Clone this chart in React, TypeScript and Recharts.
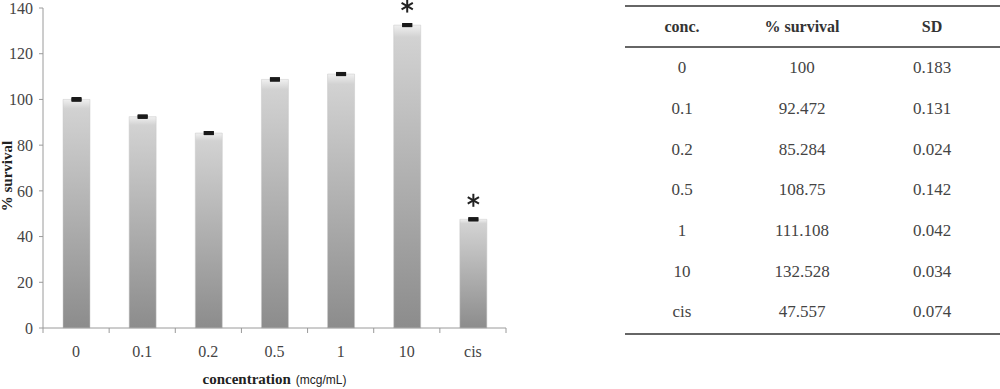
import React from 'react'
import { BarChart, Bar, XAxis, YAxis, ErrorBar, LabelList } from 'recharts'

/* survival vs concentration — bar chart + data table on the right */

const categories = ['0', '0.1', '0.2', '0.5', '1', '10', 'cis']
const survival = [100, 92.472, 85.284, 108.75, 111.108, 132.528, 47.557]
const sdValues = [0.183, 0.131, 0.024, 0.142, 0.042, 0.034, 0.074]
const significant = [false, false, false, false, false, true, true]
const yTicks = [0, 20, 40, 60, 80, 100, 120, 140]

const data = categories.map((conc, i) => ({
  conc,
  survival: survival[i],
  sd: sdValues[i],
  sig: significant[i],
}))

const SERIF = '"Liberation Serif", "DejaVu Serif", serif'
const AXIS = '#9a9a9a'

function XTick(props: any) {
  const { x, y, payload, index } = props
  const half = payload?.offset || 33
  const last = index === categories.length - 1
  return (
    <g>
      <line x1={x - half} y1={y} x2={x - half} y2={y + 5} stroke={AXIS} />
      {last && <line x1={x + half} y1={y} x2={x + half} y2={y + 5} stroke={AXIS} />}
      <text x={x} y={y + 29} textAnchor="middle" fontSize={16} fill="#444" fontFamily={SERIF}>
        {payload.value}
      </text>
    </g>
  )
}

function Asterisk(props: any) {
  const { x, y, width, index } = props
  if (!significant[index]) return null
  const cx = x + width / 2
  const cy = y - 19
  const r = 6.5
  const arms = [90, 30, -30]
  return (
    <g stroke="#222" strokeWidth={2}>
      {arms.map((a) => {
        const rad = (a * Math.PI) / 180
        const dx = Math.cos(rad) * r
        const dy = Math.sin(rad) * r
        return <line key={a} x1={cx - dx} y1={cy - dy} x2={cx + dx} y2={cy + dy} />
      })}
    </g>
  )
}

function SurvivalTable() {
  const cols = [114, 126, 134]
  const cell = (w: number): React.CSSProperties => ({ width: w, textAlign: 'center' })
  return (
    <div
      style={{
        position: 'absolute',
        left: 625,
        top: 5,
        width: 375,
        fontFamily: SERIF,
        fontSize: 17,
        color: '#444',
        borderTop: '2px solid #666',
        borderBottom: '2px solid #666',
      }}
    >
      <div
        style={{
          display: 'flex',
          alignItems: 'center',
          height: 39,
          borderBottom: '2px solid #666',
          fontWeight: 'bold',
          fontSize: 16,
          color: '#333',
        }}
      >
        <div style={cell(cols[0])}>conc.</div>
        <div style={cell(cols[1])}>% survival</div>
        <div style={cell(cols[2])}>SD</div>
      </div>
      {categories.map((c, i) => (
        <div key={c} style={{ display: 'flex', alignItems: 'center', height: 40.7 }}>
          <div style={cell(cols[0])}>{c}</div>
          <div style={cell(cols[1])}>{String(survival[i])}</div>
          <div style={cell(cols[2])}>{sdValues[i].toFixed(3)}</div>
        </div>
      ))}
    </div>
  )
}

export default function App() {
  return (
    <div style={{ position: 'absolute', left: 0, top: 0, width: 1000, height: 389, background: '#fff' }}>
      <BarChart width={520} height={389} data={data} margin={{ top: 8, right: 14, bottom: 11, left: 0 }}>
        <defs>
          <linearGradient id="barFill" x1="0" y1="0" x2="0" y2="1">
            <stop offset="0%" stopColor="#f0f0f0" />
            <stop offset="4%" stopColor="#d2d2d2" />
            <stop offset="100%" stopColor="#8c8c8c" />
          </linearGradient>
        </defs>
        <XAxis
          dataKey="conc"
          interval={0}
          height={50}
          tickSize={0}
          tickMargin={0}
          tickLine={false}
          axisLine={{ stroke: AXIS }}
          tick={<XTick />}
          label={{
            content: (p: any) => {
              const vb = p.viewBox || { x: 43, y: 328, width: 463 }
              return (
                <text x={vb.x + vb.width / 2} y={vb.y + 56} textAnchor="middle" fill="#222">
                  <tspan fontFamily={SERIF} fontWeight="bold" fontSize={15}>concentration</tspan>
                  <tspan fontFamily='"Liberation Sans", Arial, sans-serif' fontSize={12} dx={5}>(mcg/mL)</tspan>
                </text>
              )
            },
          }}
        />
        <YAxis
          width={43}
          domain={[0, 140]}
          ticks={yTicks}
          interval={0}
          tickSize={4}
          tickMargin={6}
          axisLine={{ stroke: AXIS }}
          tickLine={{ stroke: AXIS }}
          tick={{ fill: '#444', fontSize: 16, fontFamily: SERIF }}
          label={{
            content: (p: any) => {
              const vb = p.viewBox || { y: 8, height: 320 }
              const cy = vb.y + vb.height / 2 + 8
              return (
                <text
                  x={7}
                  y={cy}
                  transform={`rotate(-90 7 ${cy})`}
                  textAnchor="middle"
                  dominantBaseline="central"
                  fontFamily={SERIF}
                  fontWeight="bold"
                  fontSize={15}
                  fill="#222"
                >
                  % survival
                </text>
              )
            },
          }}
        />
        <Bar dataKey="survival" barSize={27} fill="url(#barFill)" stroke="#c8c8c8" strokeWidth={0.5} isAnimationActive={false}>
          <ErrorBar dataKey="sd" width={5} strokeWidth={4} stroke="#1a1a1a" />
          <LabelList dataKey="survival" content={<Asterisk />} />
        </Bar>
      </BarChart>
      <SurvivalTable />
    </div>
  )
}
